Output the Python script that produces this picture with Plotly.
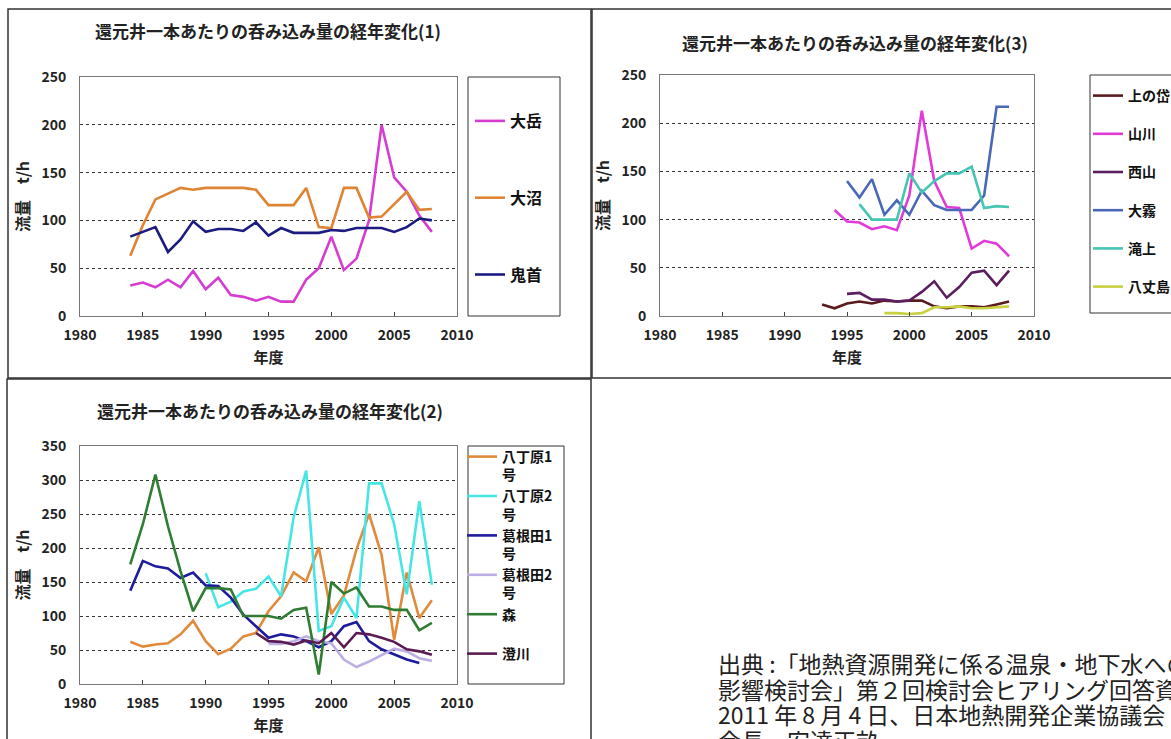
import plotly.graph_objects as go

W, H = 1171, 739

# ---- data -----------------------------------------------------------------
years_1 = list(range(1984, 2009))
otake = [32, 35, 30, 38, 30, 47, 28, 40, 22, 20, 16, 20, 15, 15, 38, 50, 83, 48, 60, 100, 200, 145, 130, 105, 88]
onuma = [63, 95, 122, 128, 134, 132, 134, 134, 134, 134, 132, 116, 116, 116, 134, 93, 92, 134, 134, 103, 104, 117, 130, 111, 112]
onikobe = [83, 88, 93, 67, 80, 99, 88, 91, 91, 89, 98, 84, 92, 87, 87, 87, 90, 89, 92, 92, 92, 88, 93, 102, 100]

uenotai_years = list(range(1993, 2009))
uenotai = [12, 8, 13, 15, 13, 16, 15, 16, 16, 10, 8, 10, 10, 9, 12, 15]
yamagawa_years = list(range(1994, 2009))
yamagawa = [110, 98, 97, 90, 93, 89, 125, 213, 140, 113, 112, 70, 78, 75, 62]
nishiyama_years = list(range(1995, 2009))
nishiyama = [23, 24, 17, 17, 15, 16, 25, 36, 19, 30, 45, 47, 32, 47]
ogiri_years = list(range(1995, 2009))
ogiri = [140, 123, 142, 105, 120, 105, 130, 115, 110, 110, 110, 125, 217, 217]
takigami_years = list(range(1996, 2009))
takigami = [116, 100, 100, 100, 148, 128, 140, 148, 148, 155, 112, 114, 113]
hachijo_years = list(range(1998, 2009))
hachijo = [3, 3, 2, 3, 9, 9, 10, 8, 8, 9, 10]

hatchobaru1_years = list(range(1984, 2009))
hatchobaru1 = [62, 55, 58, 60, 73, 93, 63, 44, 52, 70, 75, 107, 129, 164, 151, 201, 103, 130, 198, 250, 190, 65, 164, 97, 123]
hatchobaru2_years = list(range(1990, 2009))
hatchobaru2 = [163, 113, 121, 136, 140, 158, 129, 245, 314, 78, 85, 127, 97, 295, 295, 235, 132, 269, 146]
kakkonda1_years = list(range(1984, 2008))
kakkonda1 = [137, 181, 173, 170, 156, 164, 145, 144, 127, 102, 85, 68, 73, 70, 63, 54, 63, 85, 91, 63, 51, 43, 36, 31]
kakkonda2_years = list(range(1995, 2009))
kakkonda2 = [59, 59, 63, 70, 63, 60, 36, 25, 33, 43, 52, 48, 38, 34]
mori_years = list(range(1984, 2009))
mori = [176, 235, 308, 232, 166, 107, 141, 141, 139, 100, 100, 100, 96, 109, 112, 14, 150, 133, 142, 114, 114, 109, 109, 79, 90]
sumikawa_years = list(range(1994, 2009))
sumikawa = [75, 63, 62, 58, 64, 60, 75, 54, 75, 73, 68, 62, 51, 48, 43]

x_ticks = [1980, 1985, 1990, 1995, 2000, 2005, 2010]

title_1 = "還元井一本あたりの呑み込み量の経年変化(1)"
title_3 = "還元井一本あたりの呑み込み量の経年変化(3)"
title_2 = "還元井一本あたりの呑み込み量の経年変化(2)"
source_lines = [
    "出典 :「地熱資源開発に係る温泉・地下水への",
    "影響検討会」第２回検討会ヒアリング回答資料",
    "2011 年 8 月 4 日、日本地熱開発企業協議会",
    "会長　安達正畝",
]

FONT = "Noto Sans CJK JP"


def px_x(p):
    return p / W


def px_y(p):
    return 1 - p / H


fig = go.Figure()

series = [
    # (name, x, y, color, axis suffix, legend)
    ("大岳", years_1, otake, "#d63cd0", "", "legend"),
    ("大沼", years_1, onuma, "#de8434", "", "legend"),
    ("鬼首", years_1, onikobe, "#1c1c80", "", "legend"),
    ("上の岱", uenotai_years, uenotai, "#5a1a1e", "2", "legend2"),
    ("山川", yamagawa_years, yamagawa, "#e23ad8", "2", "legend2"),
    ("西山", nishiyama_years, nishiyama, "#5c1e5e", "2", "legend2"),
    ("大霧", ogiri_years, ogiri, "#4a68b8", "2", "legend2"),
    ("滝上", takigami_years, takigami, "#46c4b4", "2", "legend2"),
    ("八丈島", hachijo_years, hachijo, "#c8d040", "2", "legend2"),
    ("八丁原1<br>号", hatchobaru1_years, hatchobaru1, "#e08a3c", "3", "legend3"),
    ("八丁原2<br>号", hatchobaru2_years, hatchobaru2, "#46e6e6", "3", "legend3"),
    ("葛根田1<br>号", kakkonda1_years, kakkonda1, "#1c1c9c", "3", "legend3"),
    ("葛根田2<br>号", kakkonda2_years, kakkonda2, "#bcaee4", "3", "legend3"),
    ("森<br>　", mori_years, mori, "#2e7d32", "3", "legend3"),
    ("澄川", sumikawa_years, sumikawa, "#5a1a52", "3", "legend3"),
]

for name, xs, ys, color, ax, leg in series:
    fig.add_trace(go.Scatter(
        x=xs, y=ys, name=name, mode="lines",
        line=dict(color=color, width=2.6),
        xaxis="x" + ax, yaxis="y" + ax,
        legend=leg, legendgroup=name,
    ))

axis_font = dict(family=FONT, size=14, color="#222", weight="bold")

# plot areas in pixels: (left, right, top, bottom, ymax)
areas = {
    "": (80, 457, 77, 316, 250),
    "2": (660, 1034, 75, 316, 250),
    "3": (80, 457, 446, 684, 350),
}

layout = dict(
    width=W, height=H, autosize=False,
    margin=dict(l=0, r=0, t=0, b=0, autoexpand=False),
    paper_bgcolor="white", plot_bgcolor="white",
    font=dict(family=FONT, color="#222"),
)

for ax, (l, r, t, b, ymax) in areas.items():
    layout["xaxis" + ax] = dict(
        domain=[px_x(l), px_x(r)], range=[1980, 2010],
        tickvals=x_ticks, ticks="inside", ticklen=4, tickcolor="#444",
        showgrid=False, zeroline=False, automargin=False,
        showline=True, mirror=True, linecolor="#777", linewidth=1,
        tickfont=axis_font, ticklabelstandoff=6,
        title=dict(text="年度", font=dict(family=FONT, size=15, color="#222", weight="bold"), standoff=9),
        anchor="y" + ax, fixedrange=True,
    )
    layout["yaxis" + ax] = dict(
        domain=[px_y(b), px_y(t)], range=[0, ymax], dtick=50,
        ticks="", showgrid=True, gridcolor="#333", griddash="3px,3px", gridwidth=1,
        zeroline=False, showline=True, mirror=True, linecolor="#777", linewidth=1,
        tickfont=axis_font, ticklabelstandoff=10, automargin=False,
        title=dict(text="流量　t/h", font=dict(family=FONT, size=16, color="#222", weight="bold"), standoff=7),
        anchor="x" + ax, fixedrange=True,
    )

layout["legend"] = dict(x=px_x(470), y=px_y(104), xanchor="left", yanchor="top",
                        bgcolor="rgba(0,0,0,0)", tracegroupgap=53, itemwidth=30,
                        font=dict(family=FONT, size=16, color="#111", weight="bold"))
layout["legend2"] = dict(x=px_x(1088), y=px_y(80), xanchor="left", yanchor="top",
                         bgcolor="rgba(0,0,0,0)", tracegroupgap=17, itemwidth=30,
                         font=dict(family=FONT, size=14, color="#111", weight="bold"))
layout["legend3"] = dict(x=px_x(462), y=px_y(441), xanchor="left", yanchor="top",
                         bgcolor="rgba(0,0,0,0)", tracegroupgap=0, itemwidth=30, valign="top",
                         font=dict(family=FONT, size=14, color="#111", weight="bold"))

line_dark = dict(color="#333", width=1.5)
box_line = dict(color="#333", width=1)
shapes = [
    # panel frames
    dict(type="rect", xref="paper", yref="paper", x0=px_x(8), x1=px_x(591), y0=px_y(378), y1=px_y(9), line=line_dark),
    dict(type="rect", xref="paper", yref="paper", x0=px_x(592), x1=px_x(1175), y0=px_y(378), y1=px_y(9), line=line_dark),
    dict(type="rect", xref="paper", yref="paper", x0=px_x(7), x1=px_x(591), y0=px_y(745), y1=px_y(379), line=line_dark),
    # legend boxes
    dict(type="rect", xref="paper", yref="paper", x0=px_x(468), x1=px_x(560), y0=px_y(316), y1=px_y(77), line=box_line),
    dict(type="rect", xref="paper", yref="paper", x0=px_x(1090), x1=px_x(1180), y0=px_y(313), y1=px_y(75), line=box_line),
    dict(type="rect", xref="paper", yref="paper", x0=px_x(468), x1=px_x(564), y0=px_y(684), y1=px_y(446), line=box_line),
]
layout["shapes"] = shapes

title_font = dict(family=FONT, size=17, color="#222", weight="bold")
annotations = [
    dict(text=title_1, x=px_x(268), y=px_y(30), xanchor="center", yanchor="middle",
         xref="paper", yref="paper", showarrow=False, font=title_font),
    dict(text=title_3, x=px_x(855), y=px_y(42), xanchor="center", yanchor="middle",
         xref="paper", yref="paper", showarrow=False, font=title_font),
    dict(text=title_2, x=px_x(270), y=px_y(410), xanchor="center", yanchor="middle",
         xref="paper", yref="paper", showarrow=False, font=title_font),
]
for i, line in enumerate(source_lines):
    annotations.append(dict(
        text=line, x=px_x(716), y=px_y(663 + 25.5 * i), xref="paper", yref="paper",
        xanchor="left", yanchor="middle", align="left", showarrow=False,
        font=dict(family=FONT, size=23, color="#222"),
    ))
layout["annotations"] = annotations

fig.update_layout(**layout)

fig.write_html("out.html", config={"displayModeBar": False},
               post_script="document.body.style.margin='0';document.body.style.overflow='hidden';")
